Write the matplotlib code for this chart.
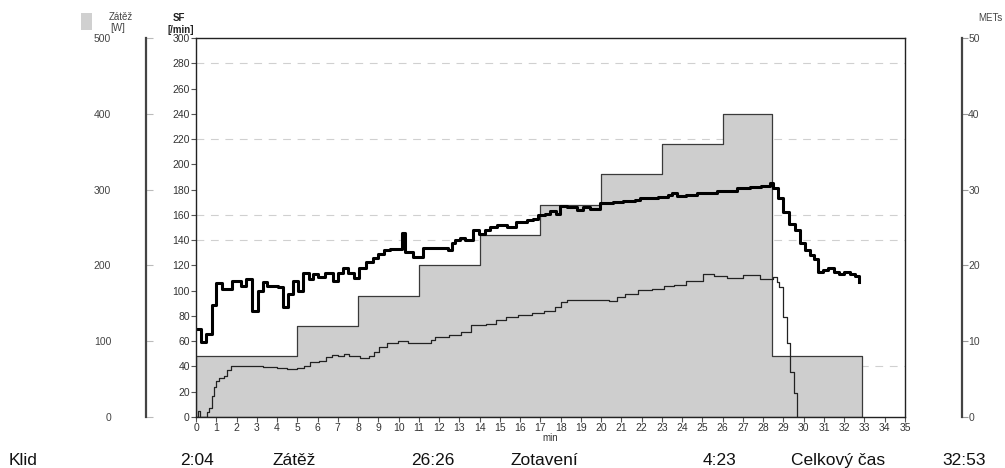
import numpy as np
import matplotlib
matplotlib.use('Agg')
import matplotlib.pyplot as plt

plt.rcParams['font.family'] = ['Liberation Sans', 'DejaVu Sans']

# zatez (W), schody protokolu
load_t = [0, 5, 8, 11, 14, 17, 20, 23, 26, 28.45, 32.9]
load_w = [80, 120, 160, 200, 240, 280, 320, 360, 400, 80, 80]

# srdecni frekvence (/min)
hr_t = [0, 0.25, 0.49, 0.77, 0.99, 1.27, 1.76, 2.2, 2.47, 2.75, 3.04, 3.29, 3.52,
        4.06, 4.31, 4.52, 4.77, 5.02, 5.3, 5.56, 5.79, 6.04, 6.37, 6.75, 7.03,
        7.24, 7.52, 7.8, 8.06, 8.37, 8.72, 9.0, 9.28, 9.58, 10.15, 10.32, 10.73,
        11.22, 12.45, 12.62, 12.78, 13.03, 13.28, 13.66, 13.98, 14.26, 14.5,
        14.84, 15.33, 15.8, 16.32, 16.65, 16.9, 17.23, 17.47, 17.77, 17.97, 18.3,
        18.79, 19.1, 19.45, 19.94, 20.6, 21.1, 21.67, 21.9, 22.35, 22.82, 23.3,
        23.5, 23.76, 24.2, 24.71, 25.7, 26.69, 27.34, 27.9, 28.33, 28.5, 28.74,
        28.99, 29.29, 29.57, 29.81, 30.06, 30.3, 30.5, 30.72, 30.96, 31.21,
        31.49, 31.74, 32.0, 32.28, 32.53, 32.75]
hr = [70, 59, 66, 89, 106, 101, 108, 104, 109, 84, 100, 107, 104,
      103, 87, 97, 108, 100, 114, 109, 113, 111, 114, 108, 114,
      118, 114, 110, 118, 123, 126, 129, 132, 133, 146, 131, 127,
      134, 132, 138, 140, 142, 140, 148, 145, 148, 150,
      152, 150, 154, 156, 157, 160, 161, 163, 161, 167, 166,
      164, 166, 165, 169, 170, 171, 172, 173, 173, 174, 176,
      177, 175, 176, 177, 179, 181, 182, 183, 185, 181, 173,
      162, 153, 148, 138, 132, 128, 125, 115, 116, 118,
      115, 113, 115, 113, 112, 107]

# METs
mets_t = [0, 0.1, 0.22, 0.53, 0.62, 0.78, 0.9, 1.0, 1.15, 1.4, 1.55, 1.75, 2.7,
          3.3, 4.0, 4.5, 5.0, 5.35, 5.65, 6.05, 6.4, 6.7, 7.0, 7.3, 7.55, 8.1,
          8.55, 8.8, 9.05, 9.45, 9.95, 10.45, 11.6, 11.8, 12.5, 13.1, 13.6,
          14.3, 14.8, 15.3, 15.9, 16.6, 17.2, 17.7, 18.0, 18.3, 20.4, 20.8,
          21.2, 21.8, 22.5, 23.1, 23.6, 24.2, 25.05, 25.55, 26.2, 27.0, 27.85,
          28.5, 28.66, 28.8, 29.0, 29.18, 29.3, 29.5, 29.65]
mets = [0, 0.8, 0, 0.6, 1.2, 2.8, 4.0, 4.8, 5.2, 5.4, 6.2, 6.7, 6.75,
        6.6, 6.5, 6.3, 6.5, 6.75, 7.2, 7.4, 7.9, 8.2, 8.1, 8.3, 8.0, 7.8,
        8.1, 8.6, 9.2, 9.8, 10.0, 9.75, 10.2, 10.5, 10.8, 11.25, 12.1,
        12.3, 12.8, 13.2, 13.4, 13.75, 14.0, 14.5, 15.2, 15.5, 15.3, 15.8,
        16.25, 16.7, 16.9, 17.25, 17.4, 18.0, 18.8, 18.6, 18.4, 18.7, 18.25,
        18.5, 17.8, 17.2, 13.2, 9.7, 6.0, 3.2, 0]

grid_sf = [40, 140, 160, 220, 280]

summary = [('Klid', 9), ('2:04', 180), ('Zátěž', 272), ('26:26', 411),
           ('Zotavení', 510), ('4:23', 703), ('Celkový čas', 791), ('32:53', 942)]

W, H = 1005, 468
fig = plt.figure(figsize=(W / 100, H / 100), dpi=100)
fig.patch.set_facecolor('white')
ax = fig.add_axes([196 / W, (H - 417) / H, (905 - 196) / W, (417 - 38) / H])
ax_load = ax.twinx()
ax_mets = ax.twinx()

ax_load.set_zorder(1)
ax_mets.set_zorder(2)
ax.set_zorder(3)
ax.patch.set_visible(False)

tc = '#333333'

# zatez - sede schody
ax_load.fill_between(load_t, load_w, step='post', facecolor='#cecece',
                     edgecolor='#3a3a3a', linewidth=0.9)
ax_load.set_ylim(0, 500)
for g in grid_sf:
    ax_load.plot([0, 35], [g, g], transform=ax.transData, color='#d0d0d0',
                 lw=0.8, ls=(0, (7, 6)), zorder=0)
for s in ['top', 'right', 'bottom']:
    ax_load.spines[s].set_visible(False)
ax_load.spines['left'].set_position(('outward', 36))
ax_load.spines['left'].set_linewidth(1.6)
ax_load.spines['left'].set_color('#444444')
ax_load.yaxis.set_ticks_position('left')
ax_load.set_yticks(np.arange(0, 501, 100))
ax_load.tick_params(axis='y', direction='in', length=5, width=0.8, color='#bbbbbb',
                    pad=25, labelsize=7.5, labelcolor='#444444')

# METs
ax_mets.step(mets_t, mets, where='post', color='#222222', lw=0.9)
ax_mets.set_ylim(0, 50)
for s in ['top', 'left', 'bottom']:
    ax_mets.spines[s].set_visible(False)
ax_mets.spines['right'].set_position(('outward', 41))
ax_mets.spines['right'].set_linewidth(1.6)
ax_mets.spines['right'].set_color('#444444')
ax_mets.set_yticks(np.arange(0, 51, 10))
ax_mets.tick_params(axis='y', direction='out', length=4, width=0.8, color='#999999',
                    pad=0.5, labelsize=7.5, labelcolor='#444444')

# SF
ax.step(hr_t, hr, where='post', color='black', lw=2.2)
ax.set_xlim(0, 35)
ax.set_ylim(0, 300)
ax.set_xticks(np.arange(0, 36, 1))
ax.set_yticks(np.arange(0, 301, 20))
ax.tick_params(axis='both', direction='out', length=3.5, width=0.8, pad=1,
               labelsize=7.5, labelcolor=tc, color='#555555')
for s in ax.spines.values():
    s.set_linewidth(1.0)
    s.set_color('#222222')
ax.set_xlabel('min', fontsize=7, color=tc, labelpad=0)

# popisky os nahore
fig.patches.append(plt.Rectangle((81 / W, 1 - 30 / H), 11 / W, 17 / H,
                                 transform=fig.transFigure, facecolor='#d0d0d0',
                                 edgecolor='none'))
fig.text(109 / W, 1 - 20 / H, 'Zátěž', fontsize=7, color='#444444')
fig.text(110 / W, 1 - 31 / H, '[W]', fontsize=7, color='#444444')
fig.text(173 / W, 1 - 21 / H, 'SF', fontsize=7, fontweight='bold', color='#222222')
fig.text(167 / W, 1 - 33 / H, '[/min]', fontsize=7, fontweight='bold', color='#222222')
fig.text(978 / W, 1 - 21 / H, 'METs', fontsize=7, color='#444444')

# souhrn casu
for txt, x in summary:
    fig.text(x / W, 1 - 465 / H, txt, fontsize=12.5, color='#111111')

fig.savefig('out.png', dpi=100, facecolor='white')
